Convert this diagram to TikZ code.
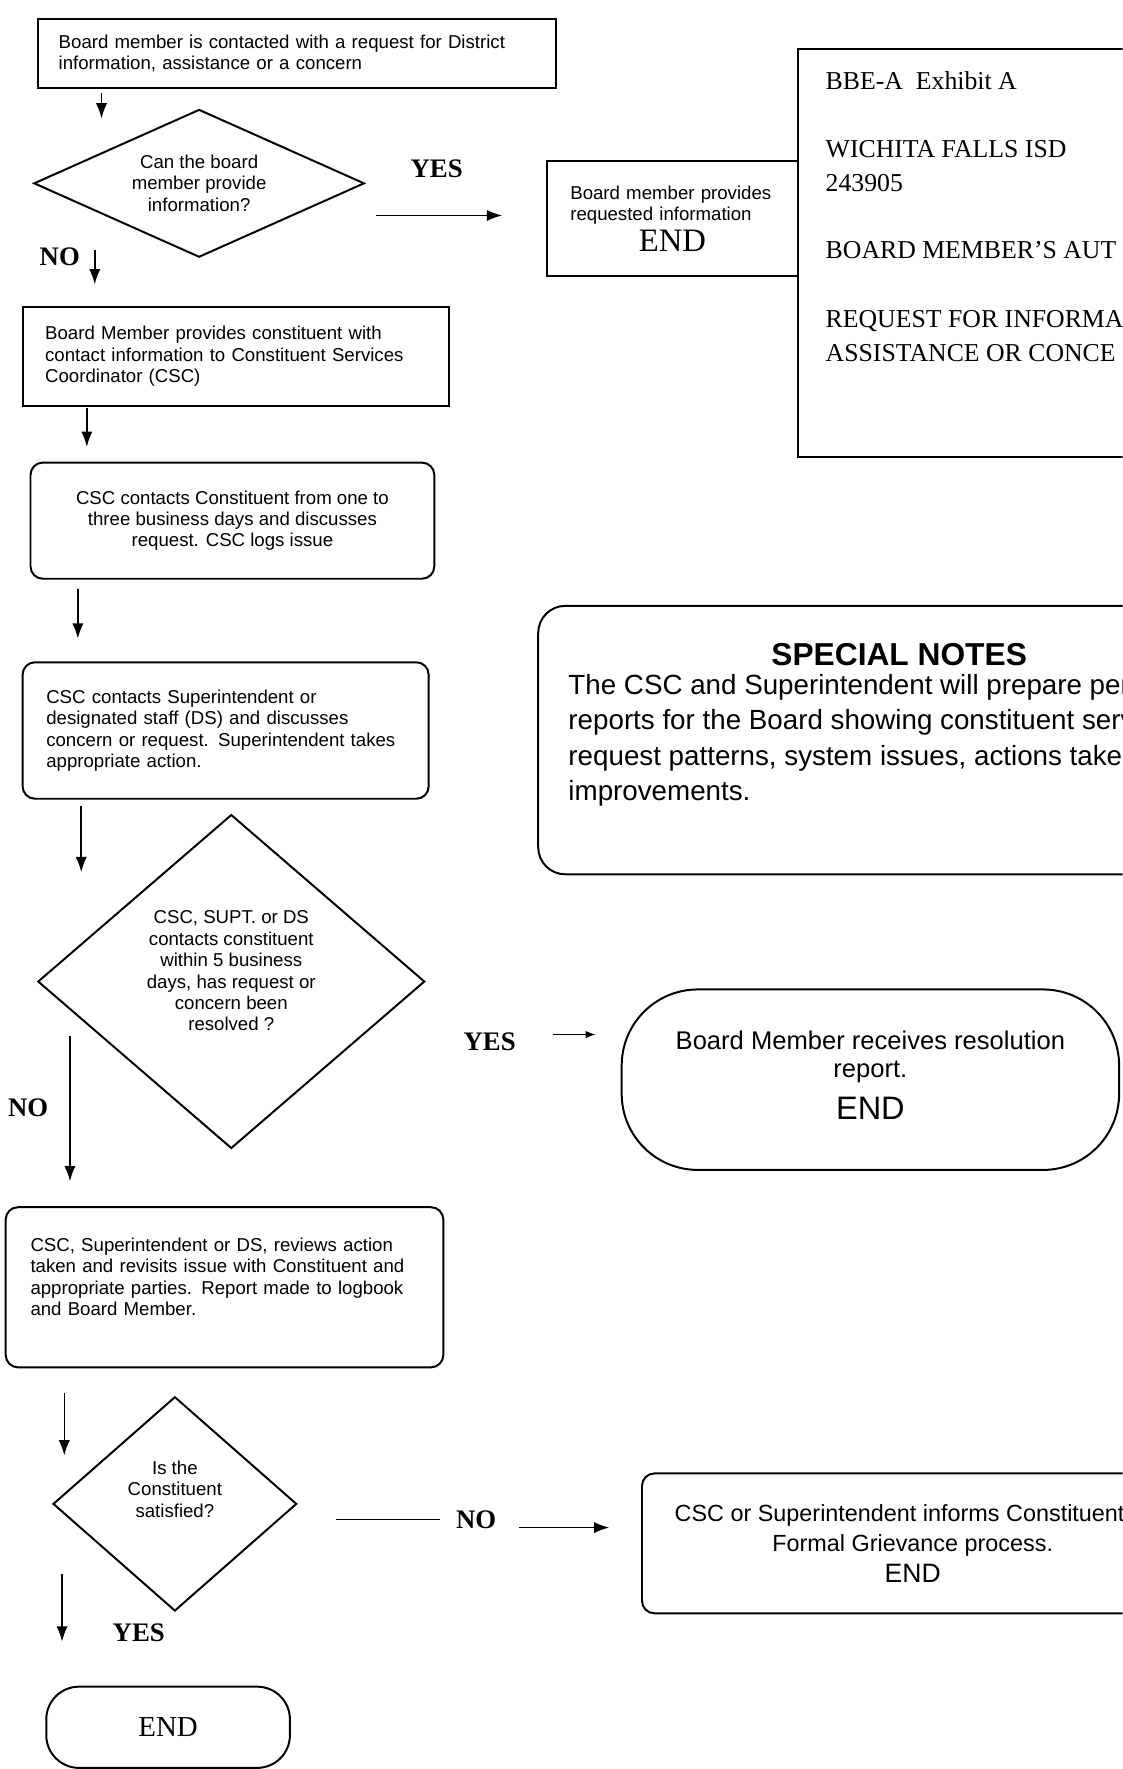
\documentclass[tikz,border=0pt]{standalone}
\usepackage{fontspec}
\setmainfont{Liberation Serif}
\setsansfont{Liberation Sans}
\usetikzlibrary{shapes.geometric,arrows.meta}

\newcommand{\boxtxt}{\sffamily\fontsize{9.4}{10.8}\selectfont}

\begin{document}
\begin{tikzpicture}[x=0.02cm,y=-0.02cm,line width=1pt,
    box/.style={draw,rectangle,inner sep=0pt,font=\boxtxt},
    rbox/.style={box,rounded corners=0.22cm},
    decision/.style={draw,diamond,inner sep=0pt,align=center,font=\boxtxt},
    term/.style={draw,rectangle,inner sep=0pt},
    yesno/.style={font=\rmfamily\bfseries\fontsize{13.5}{15}\selectfont}]
  \useasboundingbox (0,0) rectangle (995,1568);
  \clip (0,0) rectangle (995,1568);
  % flow chart, left column
  \draw
    (263.5,47.5) node[box,minimum width=9.18cm,minimum height=1.22cm,text width=8.46cm,align=left] (contact)
      {Board member is contacted with a request for District\\information, assistance or a concern}
    (176.5,162.5) node[decision,minimum width=5.86cm,minimum height=2.62cm,aspect=2.2] (canprovide)
      {Can the board\\member provide\\information?}
    (209,316) node[box,minimum width=7.56cm,minimum height=1.76cm,text width=6.76cm,align=left] (refer)
      {Board Member provides constituent with\\contact information to Constituent Services\\Coordinator (CSC)}
    (206,461.5) node[rbox,minimum width=7.16cm,minimum height=2.06cm,align=center] (csccall)
      {CSC contacts Constituent from one to\\three business days and discusses\\request. CSC logs issue}
    (200,647.5) node[rbox,minimum width=7.2cm,minimum height=2.42cm,text width=6.36cm,align=left] (escalate)
      {CSC contacts Superintendent or\\designated staff (DS) and discusses\\concern or request. Superintendent takes\\appropriate action.}
    (205,870) node[decision,minimum width=6.86cm,minimum height=5.92cm,aspect=1.16] (resolved)
      {CSC, SUPT. or DS\\contacts constituent\\within 5 business\\days, has request or\\concern been\\resolved ?\\ \mbox{}}
    (199,1141) node[rbox,minimum width=7.76cm,minimum height=2.84cm,text width=6.88cm,align=left] (review)
      {CSC, Superintendent or DS, reviews action\\taken and revisits issue with Constituent and\\appropriate parties. Report made to logbook\\and Board Member.\\ \mbox{}}
    (155,1333) node[decision,minimum width=4.32cm,minimum height=3.8cm,aspect=1.14] (satisfied)
      {Is the\\Constituent\\satisfied?\\[4pt] \mbox{}}
    (149,1531) node[term,minimum width=4.32cm,minimum height=1.44cm,rounded corners=0.58cm,
      font=\rmfamily\fontsize{14.6}{16}\selectfont] (finish) {END};
  % right column
  \draw
    (596,194) node[box,minimum width=4.44cm,minimum height=2.04cm,text width=3.62cm,align=left] (provided)
      {Board member provides\\requested information\\[2pt]\makebox[\hsize]{\rmfamily\fontsize{16.5}{18}\selectfont END}}
    (908.5,224) node[box,minimum width=8.06cm,minimum height=7.24cm] (exhibit) {}
    (731,63) node[anchor=north west,inner sep=0pt,align=left,font=\rmfamily\fontsize{13}{17}\selectfont] (exhibittxt)
      {BBE-A\ \ Exhibit A\\[17pt]WICHITA FALLS ISD\\243905\\[17pt]BOARD MEMBER'S AUT\\[18pt]REQUEST FOR INFORMA\\ASSISTANCE OR CONCE}
    (797,656) node[box,rounded corners=0.48cm,minimum width=12.8cm,minimum height=4.76cm] (notes) {}
    (797,580) node[font=\sffamily\bfseries\fontsize{16}{19}\selectfont] (notestitle) {SPECIAL NOTES}
    (503,597) node[anchor=north west,inner sep=0pt,align=left,font=\sffamily\fontsize{14}{17.8}\selectfont] (notestxt)
      {The CSC and Superintendent will prepare per\\reports for the Board showing constituent serv\\request patterns, system issues, actions taken\\improvements.}
    (771.5,957) node[term,minimum width=8.82cm,minimum height=3.2cm,rounded corners=1.35cm,align=center,
      font=\sffamily\fontsize{12.9}{14.2}\selectfont] (report)
      {Board Member receives resolution\\report.\\[7pt]{\fontsize{16.4}{18}\selectfont END}\\[-10pt] \mbox{}}
    (809,1368) node[rbox,minimum width=9.6cm,minimum height=2.48cm,align=center,
      font=\sffamily\fontsize{11.8}{15.3}\selectfont] (grievance)
      {\makebox[8.44cm][l]{CSC or Superintendent informs Constituent}\\Formal Grievance process.\\{\fontsize{13.4}{15}\selectfont END}};
  % branch labels
  \path
    (387,150) node[yesno] (yes1) {YES}
    (53,228) node[yesno] (no1) {NO}
    (434,923) node[yesno] (yes2) {YES}
    (25,982) node[yesno] (no2) {NO}
    (422,1347) node[yesno] (no3) {NO}
    (123,1447) node[yesno] (yes3) {YES};
  % arrow ends
  \path
    (90,82) coordinate (s1) (90,105) coordinate (e1)
    (333,191) coordinate (s2) (445,191) coordinate (e2)
    (84,222) coordinate (s3) (84,252) coordinate (e3)
    (77,362) coordinate (s4) (77,396) coordinate (e4)
    (69,522) coordinate (s5) (69,566) coordinate (e5)
    (72,714) coordinate (s6) (72,773) coordinate (e6)
    (490,917) coordinate (s7) (528,917) coordinate (e7)
    (62,918) coordinate (s8) (62,1047) coordinate (e8)
    (57,1235) coordinate (s9) (57,1290) coordinate (e9)
    (298,1347) coordinate (s10) (390,1347) coordinate (e10)
    (460,1354) coordinate (s11) (540,1354) coordinate (e11)
    (55,1395) coordinate (s12) (55,1455) coordinate (e12);
  \begin{scope}[-{Latex[length=2.7mm,width=2mm]},line width=0.8pt]
    \draw (s1) to (e1);
    \draw (s2) to (e2);
    \draw (s3) to (e3);
    \draw (s4) to (e4);
    \draw (s5) to (e5);
    \draw (s6) to (e6);
    \draw[line width=0.5pt,-{Latex[length=1.8mm,width=1.3mm]}] (s7) to (e7);
    \draw (s8) to (e8);
    \draw (s9) to (e9);
    \draw[-] (s10) to (e10);
    \draw (s11) to (e11);
    \draw (s12) to (e12);
  \end{scope}
\end{tikzpicture}
\end{document}
